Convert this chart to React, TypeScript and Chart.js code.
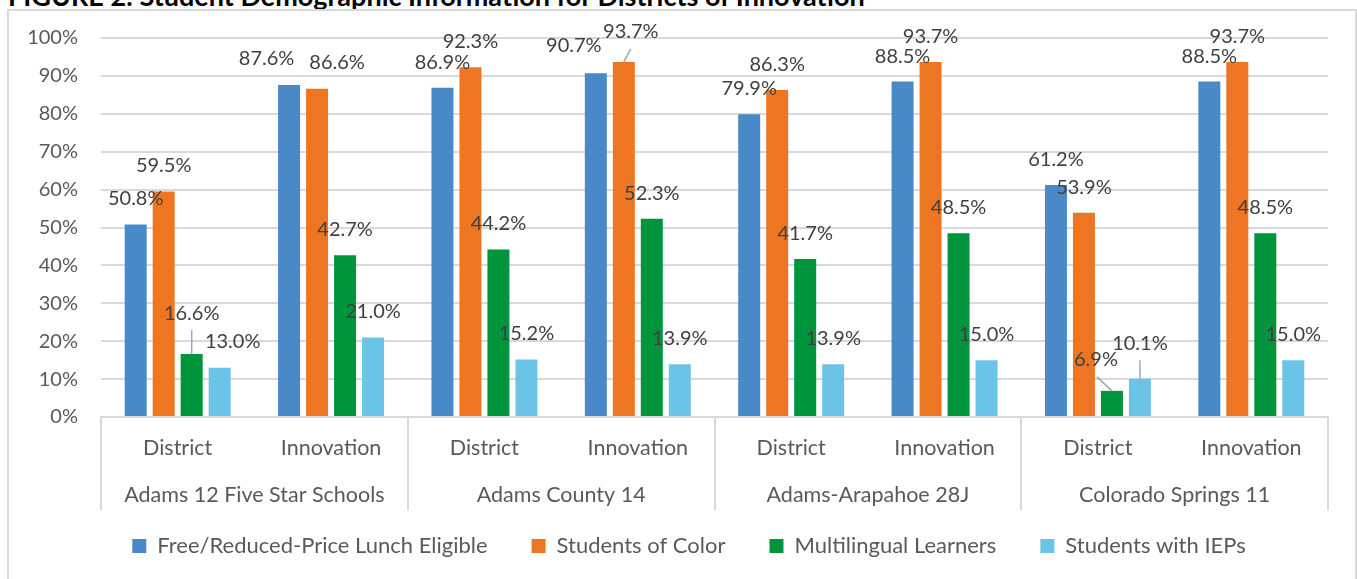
import React, { useEffect, useRef } from "react";
import { Chart, registerables } from "chart.js";

Chart.register(...registerables);

const subCategories = ["District", "Innovation", "District", "Innovation", "District", "Innovation", "District", "Innovation"];
const groupLabels = ["Adams 12 Five Star Schools", "Adams County 14", "Adams-Arapahoe 28J", "Colorado Springs 11"];
const seriesNames = ["Free/Reduced-Price Lunch Eligible", "Students of Color", "Multilingual Learners", "Students with IEPs"];
const freeReducedLunch = [50.8, 87.6, 86.9, 90.7, 79.9, 88.5, 61.2, 88.5];
const studentsOfColor = [59.5, 86.6, 92.3, 93.7, 86.3, 93.7, 53.9, 93.7];
const multilingualLearners = [16.6, 42.7, 44.2, 52.3, 41.7, 48.5, 6.9, 48.5];
const studentsWithIEPs = [13.0, 21.0, 15.2, 13.9, 13.9, 15.0, 10.1, 15.0];
const yMin = 0;
const yMax = 100;
const yStep = 10;

const titleText = "FIGURE 2: Student Demographic Information for Districts of Innovation";

// styles
const seriesColors = ["#4a89c8", "#ee7623", "#00953d", "#6cc3e8"];
const FONT = "Lato, 'Open Sans', sans-serif";
const GRID = "#d9d9d9";
const LABEL_DY = -25.5;
const LEGEND_PAD = 44;
const LEGEND_CENTER_X = 689;
const LEGEND_TOP = 546 - LEGEND_PAD - 11;
// label nudges per "series-category": [dx, dy, leaderLine]
const labelNudges: Record<string, [number, number, boolean]> = {
  "0-1": [-22.5, -26, false],
  "1-1": [20, -26, false],
  "2-0": [0, -41, true],
  "3-0": [13, -26, false],
  "0-3": [-22, -28, false],
  "1-3": [7, -30, true],
  "2-6": [-16, -31, true],
  "3-6": [0, -35.5, true],
};

const labelPlugin = {
  id: "barLabels",
  afterDatasetsDraw(chart: any) {
    const ctx = chart.ctx;
    ctx.save();
    ctx.font = `20px ${FONT}`;
    ctx.textAlign = "center";
    ctx.textBaseline = "middle";
    chart.data.datasets.forEach((ds: any, si: number) => {
      const meta = chart.getDatasetMeta(si);
      meta.data.forEach((el: any, ci: number) => {
        const v = ds.data[ci] as number;
        const n = labelNudges[`${si}-${ci}`] || [0, LABEL_DY, false];
        const lx = el.x + n[0];
        const ly = el.y + n[1];
        if (n[2]) {
          ctx.strokeStyle = "#a6a6a6";
          ctx.lineWidth = 1.5;
          ctx.beginPath();
          ctx.moveTo(lx + (el.x > lx + 5 ? 1 : 0), ly + 17);
          ctx.lineTo(el.x, el.y);
          ctx.stroke();
        }
        ctx.fillStyle = "#404040";
        ctx.fillText(v.toFixed(1) + "%", lx, ly);
      });
    });
    ctx.restore();
  },
};

const separatorPlugin = {
  id: "groupSeparators",
  afterDraw(chart: any) {
    const x = chart.scales.x;
    const x2 = chart.scales.x2;
    const ctx = chart.ctx;
    const per = (x.right - x.left) / subCategories.length;
    ctx.save();
    ctx.strokeStyle = GRID;
    ctx.lineWidth = 2;
    ctx.beginPath();
    for (let k = 0; k <= subCategories.length; k += 2) {
      const px = Math.round(x.left + k * per);
      ctx.moveTo(px, x.top);
      ctx.lineTo(px, x2.bottom);
    }
    ctx.stroke();
    ctx.restore();
  },
};

const legendPlacePlugin = {
  id: "legendPlace",
  afterLayout(chart: any) {
    const lg = chart.legend;
    if (!lg) return;
    const halfW = (lg.right - lg.left) / 2;
    const h = lg.bottom - lg.top;
    lg.left = LEGEND_CENTER_X - halfW;
    lg.right = LEGEND_CENTER_X + halfW;
    lg.top = LEGEND_TOP;
    lg.bottom = LEGEND_TOP + h;
  },
};

export default function App() {
  const ref = useRef<HTMLCanvasElement | null>(null);

  useEffect(() => {
    if (!ref.current) return;
    const seriesData = [freeReducedLunch, studentsOfColor, multilingualLearners, studentsWithIEPs];
    const chart = new Chart(ref.current, {
      type: "bar",
      data: {
        labels: subCategories,
        datasets: seriesNames.map((name, i) => ({
          label: name,
          data: seriesData[i],
          backgroundColor: seriesColors[i],
          borderWidth: 0,
          categoryPercentage: 0.73,
          barPercentage: 0.786,
          xAxisID: "x",
        })),
      },
      options: {
        responsive: false,
        animation: false,
        devicePixelRatio: 1,
        layout: { padding: { left: 10, right: 29, top: 38, bottom: -7 } },
        plugins: {
          title: { display: false },
          tooltip: { enabled: false },
          legend: {
            position: "bottom",
            labels: {
              font: { family: FONT, size: 22 },
              color: "#595959",
              boxWidth: 14,
              boxHeight: 14,
              padding: LEGEND_PAD,
            },
          },
        },
        scales: {
          y: {
            min: yMin,
            max: yMax,
            afterFit: (s: any) => {
              s.width = 91;
            },
            ticks: {
              stepSize: yStep,
              padding: 23,
              color: "#595959",
              font: { family: FONT, size: 20 },
              callback: (v: any) => `${v}%`,
            },
            grid: { color: GRID, lineWidth: 2, drawTicks: false },
            border: { display: false },
          },
          x: {
            type: "category",
            position: "bottom",
            afterFit: (s: any) => {
              s.height = 47;
            },
            ticks: {
              padding: 18,
              color: "#595959",
              font: { family: FONT, size: 21.5 },
              maxRotation: 0,
              autoSkip: false,
            },
            grid: { display: false, drawTicks: false },
            border: { display: true, color: GRID, width: 2 },
          },
          x2: {
            type: "category",
            position: "bottom",
            labels: groupLabels,
            offset: true,
            afterFit: (s: any) => {
              s.height = 46;
            },
            ticks: {
              padding: 18,
              color: "#595959",
              font: { family: FONT, size: 21.5 },
              maxRotation: 0,
              autoSkip: false,
            },
            grid: { display: false, drawTicks: false },
            border: { display: false },
          },
        },
      },
      plugins: [labelPlugin, separatorPlugin, legendPlacePlugin],
    } as any);
    return () => chart.destroy();
  }, []);

  return (
    <div style={{ position: "absolute", left: 0, top: 0, width: 1357, height: 579, overflow: "hidden", background: "#fff" }}>
      <div
        style={{
          position: "absolute",
          left: 8,
          top: -18.5,
          font: `bold 27px ${FONT}`,
          lineHeight: "27px",
          color: "#000",
          whiteSpace: "nowrap",
        }}
      >
        {titleText}
      </div>
      <div
        style={{
          position: "absolute",
          left: 7,
          top: 9,
          width: 1346,
          height: 600,
          border: "2px solid #d9d9d9",
        }}
      />
      <canvas
        ref={ref}
        width={1357}
        height={579}
        style={{ position: "absolute", left: 0, top: 0, width: 1357, height: 579 }}
      />
    </div>
  );
}
